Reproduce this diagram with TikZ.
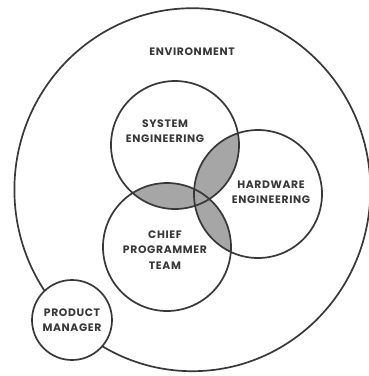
\documentclass[tikz,border=0pt]{standalone}
\usepackage{fontspec}
\setmainfont{Poppins}[LetterSpace=6]
\definecolor{inkc}{HTML}{383838}
\definecolor{shadec}{HTML}{A6A6A6}
\begin{document}
\begin{tikzpicture}[x=1pt,y=-1pt,
  ring/.style={draw=inkc, line width=1.7pt},
  lbl/.style={font=\bfseries\fontsize{10.8}{15.2}\selectfont, align=center, text=inkc, inner sep=0pt}]
\useasboundingbox (0,0) rectangle (369,376);
\fill[white] (0,0) rectangle (369,376);
\coordinate (env) at (192.4,189.7);
\coordinate (sys) at (175,145);
\coordinate (hw) at (258,194);
\coordinate (cpt) at (167,247);
\coordinate (pm) at (72,320);
% shaded overlaps
\begin{scope}
  \clip (sys) circle (64pt);
  \fill[shadec] (hw) circle (64pt);
  \fill[shadec] (cpt) circle (64pt);
\end{scope}
\begin{scope}
  \clip (hw) circle (64pt);
  \fill[shadec] (cpt) circle (64pt);
\end{scope}
% environment
\draw[ring] (env) ellipse (178pt and 181.5pt);
\node[ring, circle, minimum size=128pt, inner sep=0pt] (sysc) at (sys) {};
\node[ring, circle, minimum size=128pt, inner sep=0pt] (hwc) at (hw) {};
\node[ring, circle, minimum size=128pt, inner sep=0pt] (cptc) at (cpt) {};
\node[ring, circle, fill=white, minimum size=80pt, inner sep=0pt] (pmc) at (pm) {};
% labels
\node[lbl] (envl) at (192,52) {ENVIRONMENT};
\node[lbl] (sysl) at (165,131) {SYSTEM\\ENGINEERING};
\node[lbl] (hwl) at (271,192) {HARDWARE\\ENGINEERING};
\node[lbl] (cptl) at (165,250) {CHIEF\\PROGRAMMER\\TEAM};
\node[lbl] (pml) at (72,320) {PRODUCT\\MANAGER};
\end{tikzpicture}
\end{document}
